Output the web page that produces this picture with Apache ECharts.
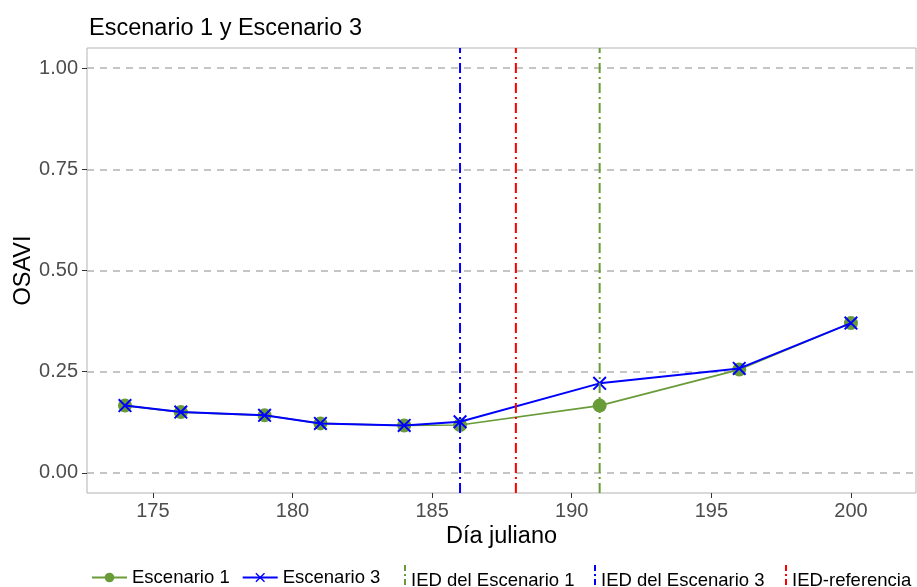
<!DOCTYPE html>
<html>
<head>
<meta charset="utf-8">
<script src="https://cdn.jsdelivr.net/npm/echarts@6/dist/echarts.min.js"></script>
<style>
html,body{margin:0;padding:0;background:#fff;}
#chart{width:917px;height:587px;}
</style>
</head>
<body>
<div id="chart"></div>
<script>
// ---- data ----
const days = [174, 176, 179, 181, 184, 186, 191, 196, 200];
const escenario1 = [0.166, 0.150, 0.142, 0.122, 0.117, 0.118, 0.166, 0.255, 0.370];
const escenario3 = [0.166, 0.150, 0.142, 0.122, 0.117, 0.126, 0.221, 0.258, 0.370];
const iedEscenario1 = 191;
const iedEscenario3 = 186;
const iedReferencia = 188;
const xTicks = [175, 180, 185, 190, 195, 200];
const yTicks = [0, 0.25, 0.5, 0.75, 1.0];
const xRange = [172.64, 202.33];
const yRange = [-0.05, 1.05];

const GREEN = '#699B39', BLUE = '#0000FF', RED = '#FF0000';
const FONT = 'Liberation Sans, Arial, sans-serif';
const X_PATH = 'path://M0,1L1,0L10,9L9,10Z M9,0L10,1L1,10L0,9Z';
const VDASH = 'path://M0,0h2v6h-2z M0,9h2v2h-2z M0,14h2v6h-2z M0,23h2v2h-2z M0,28h2v4h-2z';
const DASH_DOT = [10, 4, 2, 4];

function pairs(xs, ys) { return xs.map((x, i) => [x, ys[i]]); }
function vline(x) { return [[x, yRange[0]], [x, yRange[1]]]; }

const legendText = {fontFamily: FONT, fontSize: 18.5, color: '#000'};
function iedLegend(name, left) {
  return {
    left: left, top: 560,
    itemWidth: 2, itemHeight: 32,
    textStyle: legendText,
    data: [{name: name, icon: VDASH}]
  };
}

const chart = echarts.init(document.getElementById('chart'), null, {renderer: 'canvas'});
chart.setOption({
  animation: false,
  backgroundColor: '#fff',
  textStyle: {fontFamily: FONT},
  title: {
    text: 'Escenario 1 y Escenario 3',
    left: 84, top: 12,
    textStyle: {fontFamily: FONT, fontSize: 23.5, fontWeight: 'normal', color: '#000'}
  },
  grid: {
    left: 87, right: 1, top: 48, bottom: 94,
    containLabel: false, outerBoundsMode: 'none',
    show: true, borderColor: '#B3B3B3', borderWidth: 1, backgroundColor: '#fff'
  },
  legend: [
    {
      left: 86, top: 563,
      itemWidth: 35, itemHeight: 12, itemGap: 12,
      textStyle: legendText,
      data: ['Escenario 1', 'Escenario 3']
    },
    iedLegend('IED del Escenario 1', 399),
    iedLegend('IED del Escenario 3', 589),
    iedLegend('IED-referencia', 780)
  ],
  xAxis: {
    type: 'value',
    min: xRange[0], max: xRange[1],
    minInterval: 5, maxInterval: 5,
    name: 'Día juliano', nameLocation: 'middle', nameGap: 32, nameMoveOverlap: false,
    nameTextStyle: {fontFamily: FONT, fontSize: 23.5, color: '#000'},
    axisLine: {show: false, onZero: false},
    axisTick: {show: true, length: 5, lineStyle: {color: '#333', width: 1}, customValues: xTicks},
    axisLabel: {show: true, fontFamily: FONT, fontSize: 20, color: '#4D4D4D', margin: 8,
      customValues: xTicks},
    splitLine: {show: false}
  },
  yAxis: {
    type: 'value',
    min: yRange[0], max: yRange[1],
    minInterval: 0.25, maxInterval: 0.25,
    name: 'OSAVI', nameLocation: 'middle', nameGap: 51, nameRotate: 90, nameMoveOverlap: false,
    nameTextStyle: {fontFamily: FONT, fontSize: 23.5, color: '#000'},
    axisLine: {show: false, onZero: false},
    axisTick: {show: true, length: 5, lineStyle: {color: '#333', width: 1}, customValues: yTicks},
    axisLabel: {show: true, fontFamily: FONT, fontSize: 20, color: '#4D4D4D', margin: 9,
      customValues: yTicks,
      formatter: v => v.toFixed(2)},
    splitLine: {show: true,
      lineStyle: {color: '#B3B3B3', width: 1.6, type: [7, 6]}}
  },
  series: [
    {
      name: 'Escenario 1', type: 'line',
      data: pairs(days, escenario1),
      symbol: 'circle', symbolSize: 14,
      itemStyle: {color: GREEN},
      lineStyle: {color: GREEN, width: 1.6},
      z: 3
    },
    {
      name: 'Escenario 3', type: 'line',
      data: pairs(days, escenario3),
      symbol: X_PATH, symbolSize: 14,
      itemStyle: {color: BLUE},
      lineStyle: {color: BLUE, width: 2},
      z: 4
    },
    {
      name: 'IED del Escenario 1', type: 'line',
      data: vline(iedEscenario1), symbol: 'none',
      itemStyle: {color: GREEN},
      lineStyle: {color: GREEN, width: 2, type: DASH_DOT},
      z: 5
    },
    {
      name: 'IED del Escenario 3', type: 'line',
      data: vline(iedEscenario3), symbol: 'none',
      itemStyle: {color: BLUE},
      lineStyle: {color: BLUE, width: 2, type: DASH_DOT},
      z: 5
    },
    {
      name: 'IED-referencia', type: 'line',
      data: vline(iedReferencia), symbol: 'none',
      itemStyle: {color: RED},
      lineStyle: {color: RED, width: 2, type: DASH_DOT},
      z: 5
    }
  ]
});
</script>
</body>
</html>
